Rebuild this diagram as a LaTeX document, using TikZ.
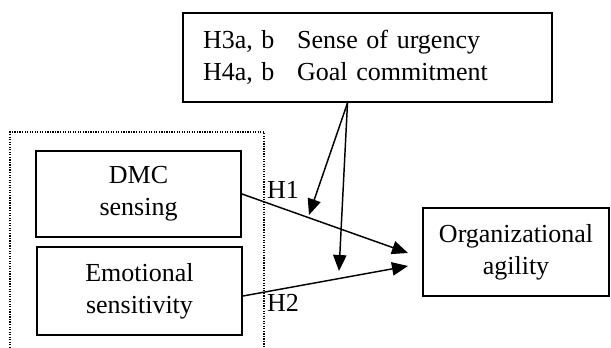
\documentclass[tikz,border=0pt]{standalone}
\usepackage{fontspec}
\setmainfont{Liberation Serif}
\usetikzlibrary{arrows.meta}

\tikzset{
    box/.style = {draw, line width=1.5pt, align=center, inner sep=0pt},
    arr/.style = {line width=1.1pt, -{Triangle[length=12pt, width=10pt]}}
}

\begin{document}
\begin{tikzpicture}[x=0.75pt, y=-0.75pt, font=\fontsize{19.5}{24}\selectfont]
    \useasboundingbox (0,0) rectangle (611,348);

    % moderators
    \node [box, align=left, text width=246.75pt, inner xsep=15pt, minimum height=66.75pt] (mods) at (367.5,57.5)
        {H3a, b\hspace{17pt}Sense of urgency\\H4a, b\hspace{17pt}Goal commitment};

    % group of predictors, open at the bottom
    \draw [densely dotted, line width=0.9pt] (10,348) -- (10,132) -- (264,132) -- (264,348);

    \node [box, minimum width=153.75pt, minimum height=64.5pt] (dmc) at (138.5,194) {DMC\\sensing};
    \node [box, minimum width=153.75pt, minimum height=66pt] (emo) at (139.5,291) {Emotional\\sensitivity};
    \node [box, minimum width=139.5pt, minimum height=66pt] (agil) at (516,252) {Organizational\\agility};

    \coordinate (h1end) at (408,253);
    \coordinate (h2end) at (408,266);
    \coordinate (m1end) at (309,215);
    \coordinate (m2end) at (339,271);

    \draw [arr] (dmc.east) -- (h1end);
    \draw [arr] ([yshift=-3.75pt]emo.east) -- (h2end);

    \draw [arr] ([xshift=-15pt]mods.south) -- (m1end);
    \draw [arr] ([xshift=-15pt]mods.south) -- (m2end);

    \node (h1) at (283,190) {H1};
    \node (h2) at (283,303) {H2};
\end{tikzpicture}
\end{document}
